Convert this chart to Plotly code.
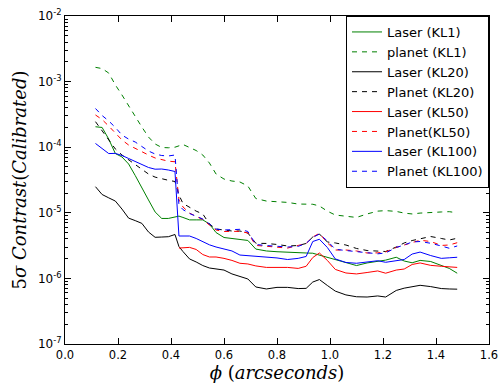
import plotly.graph_objects as go

sep = [0.115, 0.14, 0.165, 0.19, 0.215, 0.24, 0.265, 0.29, 0.315, 0.34, 0.365, 0.39, 0.415,
       0.43, 0.445, 0.47, 0.495, 0.52, 0.545, 0.57, 0.6, 0.63, 0.66, 0.69, 0.72, 0.76, 0.8,
       0.84, 0.88, 0.91, 0.935, 0.96, 0.99, 1.02, 1.06, 1.1, 1.14, 1.18, 1.21, 1.25, 1.28,
       1.31, 1.34, 1.38, 1.42, 1.45, 1.48]

laser_kl1 = [2.05e-4, 2.0e-4, 1.33e-4, 8.0e-5, 7.1e-5, 5.55e-5, 3.7e-5, 2.35e-5, 1.57e-5, 1.03e-5,
             8.2e-6, 8.2e-6, 8.6e-6, 8.9e-6, 8.5e-6, 7.8e-6, 7.8e-6, 7.8e-6, 6.75e-6, 5.0e-6,
             4.2e-6, 4.06e-6, 4.0e-6, 3.79e-6, 2.8e-6, 2.62e-6, 2.55e-6, 2.49e-6, 2.48e-6, 2.44e-6,
             2.42e-6, 2.27e-6, 2.08e-6, 1.9e-6, 1.75e-6, 1.57e-6, 1.72e-6, 1.84e-6, 1.9e-6, 2.1e-6,
             1.84e-6, 1.73e-6, 1.88e-6, 1.81e-6, 1.6e-6, 1.42e-6, 1.2e-6]

planet_kl1 = [1.65e-3, 1.58e-3, 1.35e-3, 8.9e-4, 6.25e-4, 4.25e-4, 2.88e-4, 2.03e-4, 1.43e-4, 1.12e-4,
              9.9e-5, 9.8e-5, 1.0e-4, 1.04e-4, 1.1e-4, 9.9e-5, 8.9e-5, 7.6e-5, 5.74e-5, 3.9e-5,
              3.27e-5, 3.05e-5, 2.95e-5, 2.56e-5, 1.65e-5, 1.51e-5, 1.49e-5, 1.44e-5, 1.36e-5, 1.36e-5,
              1.35e-5, 1.27e-5, 1.06e-5, 9.25e-6, 8.75e-6, 8.5e-6, 9.6e-6, 1.06e-5, 1.08e-5, 1.05e-5,
              9.9e-6, 9.6e-6, 9.9e-6, 1.02e-5, 1.03e-5, 1.04e-5, 1.0e-5]

laser_kl20 = [2.5e-5, 1.9e-5, 1.69e-5, 1.51e-5, 1.14e-5, 8.3e-6, 7.6e-6, 6.9e-6, 5.1e-6, 4.23e-6,
              4.27e-6, 4.32e-6, 4.67e-6, 3.06e-6, 2.57e-6, 1.98e-6, 1.78e-6, 1.57e-6, 1.44e-6, 1.38e-6,
              1.34e-6, 1.17e-6, 1.06e-6, 9.8e-7, 7.4e-7, 6.9e-7, 7.3e-7, 7.3e-7, 7.0e-7, 7.05e-7,
              8.8e-7, 9.6e-7, 7.8e-7, 6.4e-7, 5.6e-7, 5.25e-7, 5.2e-7, 5.4e-7, 5.2e-7, 6.55e-7,
              7.1e-7, 7.5e-7, 7.85e-7, 7.5e-7, 7.0e-7, 6.9e-7, 6.85e-7]

planet_kl20 = [2.45e-4, 1.77e-4, 1.29e-4, 9.4e-5, 7.6e-5, 6.4e-5, 5.45e-5, 4.65e-5, 3.9e-5, 3.5e-5,
               3.27e-5, 3.13e-5, 3.0e-5, 1.87e-5, 1.39e-5, 1.2e-5, 1.06e-5, 9.6e-6, 6.75e-6, 5.66e-6,
               5.47e-6, 5.28e-6, 5.28e-6, 4.92e-6, 3.43e-6, 3.41e-6, 3.29e-6, 3.12e-6, 3.17e-6, 3.41e-6,
               4.28e-6, 4.75e-6, 3.59e-6, 3.47e-6, 3.23e-6, 2.86e-6, 2.66e-6, 2.57e-6, 2.57e-6, 3.01e-6,
               3.47e-6, 3.78e-6, 4.02e-6, 4.35e-6, 4.06e-6, 3.85e-6, 4.09e-6]

laser_kl50 = [None] * 13 + [
              2.9e-6, 2.95e-6, 2.97e-6, 2.76e-6, 2.31e-6, 2.12e-6, 2.12e-6, 2.02e-6, 1.88e-6, 1.7e-6,
              1.66e-6, 1.55e-6, 1.47e-6, 1.47e-6, 1.47e-6, 1.42e-6, 1.53e-6, 2.08e-6, 2.44e-6, 1.88e-6,
              1.37e-6, 1.21e-6, 1.17e-6, 1.23e-6, 1.3e-6, 1.2e-6, 1.34e-6, 1.39e-6, 1.63e-6, 1.72e-6,
              1.58e-6, 1.53e-6, 1.51e-6, 1.47e-6]

planet_kl50 = [3.1e-4, 2.64e-4, 2.1e-4, 1.62e-4, 1.29e-4, 1.08e-4, 9.55e-5, 8.45e-5, 7.6e-5, 6.85e-5,
               6.4e-5, 6.12e-5, 6.0e-5, 1.57e-5, 1.23e-5, 9.9e-6, 8.8e-6, 7.9e-6, 6.5e-6, 5.47e-6,
               5.19e-6, 5.16e-6, 5.22e-6, 4.92e-6, 3.18e-6, 3.09e-6, 2.98e-6, 2.9e-6, 3.18e-6, 3.41e-6,
               4.28e-6, 4.87e-6, 3.47e-6, 2.71e-6, 2.71e-6, 2.62e-6, 2.44e-6, 2.45e-6, 2.53e-6, 2.96e-6,
               3.23e-6, 3.47e-6, 3.82e-6, 3.65e-6, 3.18e-6, 3.23e-6, 3.5e-6]

laser_kl100 = [1.14e-4, 9.55e-5, 8.0e-5, 8.05e-5, 7.47e-5, 6.73e-5, 6.05e-5, 5.45e-5, 4.91e-5, 4.62e-5,
               4.65e-5, 4.49e-5, 4.26e-5, 4.43e-6, 4.43e-6, 4.43e-6, 4.06e-6, 3.65e-6, 3.25e-6, 3.01e-6,
               2.8e-6, 2.62e-6, 2.27e-6, 2.23e-6, 2.18e-6, 2.12e-6, 2.05e-6, 1.94e-6, 2.02e-6, 2.16e-6,
               3.65e-6, 3.95e-6, 2.96e-6, 1.98e-6, 1.75e-6, 1.7e-6, 1.78e-6, 1.86e-6, 1.76e-6, 1.84e-6,
               1.94e-6, 2.35e-6, 2.52e-6, 2.23e-6, 2.02e-6, 2.06e-6, 2.1e-6]

planet_kl100 = [3.89e-4, 3.04e-4, 2.51e-4, 2.0e-4, 1.53e-4, 1.33e-4, 1.2e-4, 1.04e-4, 8.75e-5, 7.87e-5,
                7.47e-5, 7.35e-5, 7.6e-5, 1.32e-5, 1.12e-5, 9.75e-6, 8.9e-6, 8.05e-6, 6.75e-6, 5.66e-6,
                5.47e-6, 5.5e-6, 5.6e-6, 5.19e-6, 3.29e-6, 3.17e-6, 3.08e-6, 3.01e-6, 3.08e-6, 3.43e-6,
                4.2e-6, 4.75e-6, 3.72e-6, 2.78e-6, 2.66e-6, 2.57e-6, 2.44e-6, 2.37e-6, 2.44e-6, 2.96e-6,
                3.23e-6, 3.59e-6, 3.65e-6, 3.43e-6, 3.12e-6, 2.88e-6, 3.12e-6]

series = [
    ("Laser (KL1)", laser_kl1, "#008000", "solid"),
    ("planet (KL1)", planet_kl1, "#008000", "5px,5px"),
    ("Laser (KL20)", laser_kl20, "#000000", "solid"),
    ("Planet (KL20)", planet_kl20, "#000000", "5px,5px"),
    ("Laser (KL50)", laser_kl50, "#ff0000", "solid"),
    ("Planet(KL50)", planet_kl50, "#ff0000", "5px,5px"),
    ("Laser (KL100)", laser_kl100, "#0000ff", "solid"),
    ("Planet (KL100)", planet_kl100, "#0000ff", "5px,5px"),
]

ytick_vals = [1e-7, 1e-6, 1e-5, 1e-4, 1e-3, 1e-2]
ytick_text = ["10<sup>-7</sup>", "10<sup>-6</sup>", "10<sup>-5</sup>",
              "10<sup>-4</sup>", "10<sup>-3</sup>", "10<sup>-2</sup>"]

fig = go.Figure()
for name, vals, color, dash in series:
    fig.add_trace(go.Scatter(x=sep, y=vals, mode="lines", name=name,
                             line=dict(color=color, width=1, dash=dash)))

fig.update_layout(
    width=499, height=385,
    margin=dict(l=65, r=10, t=16, b=41, autoexpand=False),
    paper_bgcolor="white", plot_bgcolor="white",
    font=dict(family="DejaVu Sans", size=12, color="black"),
    legend=dict(x=1, y=1, xanchor="right", yanchor="top",
                bgcolor="white", bordercolor="black", borderwidth=1,
                font=dict(family="DejaVu Sans", size=13), itemwidth=30,
                tracegroupgap=0),
    xaxis=dict(range=[0, 1.6], tickvals=[0, 0.2, 0.4, 0.6, 0.8, 1.0, 1.2, 1.4, 1.6],
               ticktext=["0.0", "0.2", "0.4", "0.6", "0.8", "1.0", "1.2", "1.4", "1.6"],
               tickfont=dict(size=11.5), automargin=False,
               showgrid=False, zeroline=False,
               showline=True, linecolor="black", linewidth=1, mirror="allticks",
               ticks="inside", ticklen=6, tickcolor="black",
               title=dict(text="<i>ϕ</i> (<i>arcseconds</i>)",
                          font=dict(family="DejaVu Serif", size=18), standoff=4)),
    yaxis=dict(type="log", range=[-7, -2], tickvals=ytick_vals, ticktext=ytick_text,
               automargin=False,
               showgrid=False, zeroline=False,
               showline=True, linecolor="black", linewidth=1, mirror="allticks",
               ticks="inside", ticklen=6, tickcolor="black",
               minor=dict(ticks="inside", ticklen=3, tickcolor="black", dtick="D1", showgrid=False),
               title=dict(text="5<i>σ Contrast</i>(<i>Calibrated</i>)",
                          font=dict(family="DejaVu Serif", size=18), standoff=6)),
)

fig.write_html("out.html", config={"displayModeBar": False},
               post_script="document.body.style.margin='0';document.body.style.overflow='hidden';")
